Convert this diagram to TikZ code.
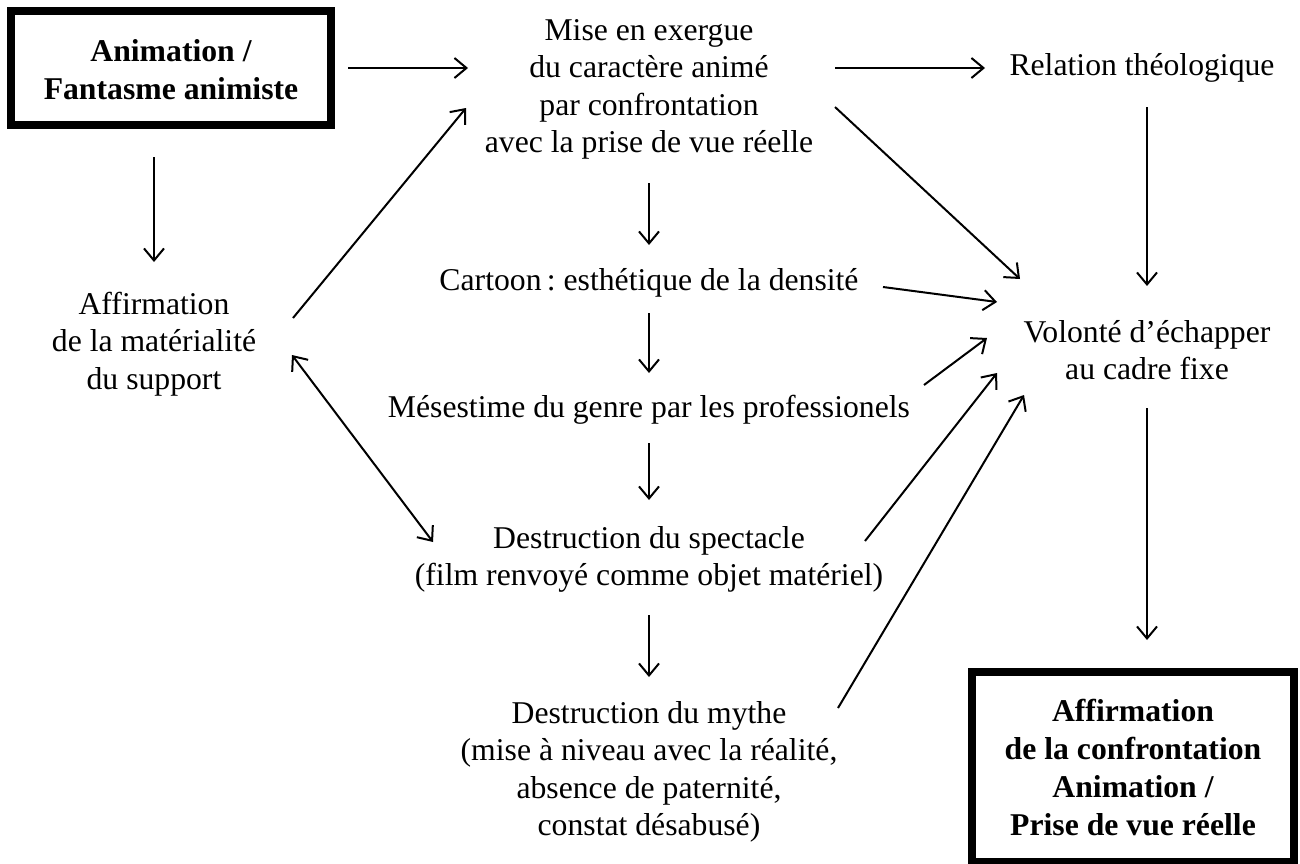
\documentclass[tikz,border=0pt]{standalone}
\usepackage{fontspec}
\setmainfont{Liberation Serif}
\usetikzlibrary{arrows.meta}
\frenchspacing
\newcommand{\mlines}[1]{\begin{tabular}[t]{@{}c@{}}#1\end{tabular}}
\begin{document}
\begin{tikzpicture}[x=0.5pt,y=-0.5pt,
  txt/.style={anchor=base, inner sep=0pt, font=\fontsize{15.85}{18.8}\selectfont},
  boldtxt/.style={anchor=base, inner sep=0pt, font=\fontsize{15.85}{19.1}\selectfont\bfseries},
  arr/.style={line width=1pt, -{Straight Barb[length=6pt,width=10pt]}},
  darr/.style={line width=1pt, {Straight Barb[length=6pt,width=10pt]}-{Straight Barb[length=6pt,width=10pt]}},
  frame/.style={draw, line width=4pt, inner sep=0pt}]
\useasboundingbox (0,0) rectangle (1300,863);

% framed boxes
\node (Abox) [frame, minimum width=160pt, minimum height=57pt] at (171,68) {};
\node (A) [boldtxt] at (171,61) {\mlines{Animation /\\Fantasme animiste}};
\node (Fbox) [frame, minimum width=161pt, minimum height=95pt] at (1133,767) {};
\node (F) [boldtxt] at (1133,721) {\mlines{Affirmation\\de la confrontation\\Animation /\\Prise de vue réelle}};

% text nodes
\node (B) [txt] at (649,40) {\mlines{Mise en exergue\\du caractère animé\\par confrontation\\avec la prise de vue réelle}};
\node (C) [txt] at (1142,75) {Relation théologique};
\node (D) [txt] at (154,314) {\mlines{Affirmation\\de la matérialité\\du support}};
\node (Ct) [txt] at (649,290) {Cartoon\,: esthétique de la densité};
\node (M) [txt] at (649,417) {Mésestime du genre par les professionels};
\node (G) [txt] at (649,548) {\mlines{Destruction du spectacle\\(film renvoyé comme objet matériel)}};
\node (H) [txt] at (649,723) {\mlines{Destruction du mythe\\(mise à niveau avec la réalité,\\absence de paternité,\\constat désabusé)}};
\node (V) [txt] at (1147,342) {\mlines{Volonté d’échapper\\au cadre fixe}};

% connector end points
\coordinate (ab1) at (348,68);   \coordinate (ab2) at (468,68);
\coordinate (bc1) at (835,68);   \coordinate (bc2) at (985,68);
\coordinate (db1) at (293,318);  \coordinate (db2) at (466,108);
\coordinate (ad1) at (154,157);  \coordinate (ad2) at (154,262);
\coordinate (dg1) at (292,355);  \coordinate (dg2) at (433,542);
\coordinate (bv1) at (835,107);  \coordinate (bv2) at (1020,279);
\coordinate (cv1) at (1147,107); \coordinate (cv2) at (1147,286);
\coordinate (bt1) at (649,183);  \coordinate (bt2) at (649,245);
\coordinate (tv1) at (883,287);  \coordinate (tv2) at (997,302);
\coordinate (tm1) at (649,313);  \coordinate (tm2) at (649,373);
\coordinate (mv1) at (924,385);  \coordinate (mv2) at (987,338);
\coordinate (mg1) at (649,443);  \coordinate (mg2) at (649,500);
\coordinate (gv1) at (865,541);  \coordinate (gv2) at (997,373);
\coordinate (gh1) at (649,615);  \coordinate (gh2) at (649,677);
\coordinate (hv1) at (838,708);  \coordinate (hv2) at (1024,395);
\coordinate (vf1) at (1147,408); \coordinate (vf2) at (1147,640);

% connectors
\draw[arr] (ab1) -- (ab2);
\draw[arr] (bc1) -- (bc2);
\draw[arr] (db1) -- (db2);
\draw[arr] (ad1) -- (ad2);
\draw[darr] (dg1) -- (dg2);
\draw[arr] (bv1) -- (bv2);
\draw[arr] (cv1) -- (cv2);
\draw[arr] (bt1) -- (bt2);
\draw[arr] (tv1) -- (tv2);
\draw[arr] (tm1) -- (tm2);
\draw[arr] (mv1) -- (mv2);
\draw[arr] (mg1) -- (mg2);
\draw[arr] (gv1) -- (gv2);
\draw[arr] (gh1) -- (gh2);
\draw[arr] (hv1) -- (hv2);
\draw[arr] (vf1) -- (vf2);
\end{tikzpicture}
\end{document}
